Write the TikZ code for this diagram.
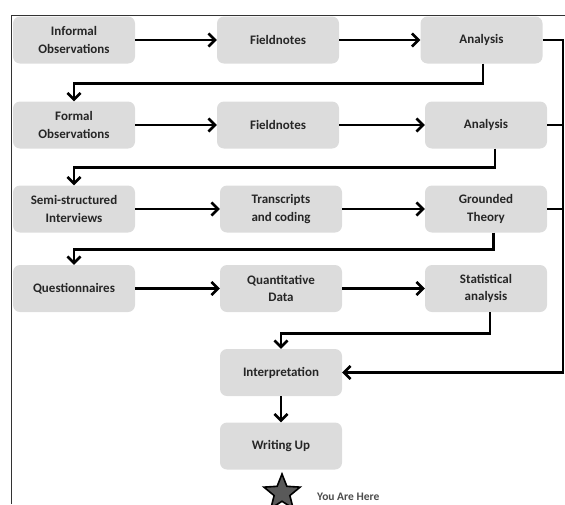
\documentclass[tikz,border=0pt]{standalone}
\usepackage{fontspec}
\setmainfont{Carlito}
\usepackage{tikz}
\usetikzlibrary{arrows.meta}
\usetikzlibrary{shapes.geometric}
\definecolor{boxgrey}{HTML}{DCDCDC}

\begin{document}
\begin{tikzpicture}[x=1pt,y=-1pt,
	box/.style={fill=boxgrey,rounded corners=7pt,minimum width=122pt,minimum height=47pt,align=center,inner sep=2pt,font=\bfseries\fontsize{13}{17.5}\selectfont,text=black!85},
	link/.style={line width=2.6pt,-{Straight Barb[length=6.5pt,width=13pt]}},
	feed/.style={line width=2.4pt}]
	\useasboundingbox (0,0) rectangle (565,504);
	\draw [line width=0.8pt,black!80] (11,504) -- (11,15) -- (565,15);
	\begin{scope}[every node/.style={box}]
	\node (io) at (74,40) {Informal\\Observations};
	\node (fn1) at (278,40) {Fieldnotes};
	\node (an1) at (481.5,40) {Analysis};
	\node (fo) at (74,125) {Formal\\Observations};
	\node (fn2) at (278,125) {Fieldnotes};
	\node (an2) at (486,125) {Analysis};
	\node (si) at (74,209) {Semi-structured\\Interviews};
	\node (tc) at (281,209) {Transcripts\\and coding};
	\node (gt) at (486,209) {Grounded\\Theory};
	\node (qu) at (74,288.5) {Questionnaires};
	\node (qd) at (281,288.5) {Quantitative\\Data};
	\node (sa) at (486,288.5) {Statistical\\analysis};
	\node (ip) at (281,372.5) {Interpretation};
	\node (wu) at (281,446) {Writing Up};
	\end{scope}
	\coordinate (rx) at (563,0);
	\draw [link] (io) -- (fn1);
	\draw [link] (fn1) -- (an1);
	\draw [link] (fo) -- (fn2);
	\draw [link] (fn2) -- (an2);
	\draw [link] (si) -- (tc);
	\draw [link] (tc) -- (gt);
	\draw [link] (qu) -- (qd);
	\draw [link] (qd) -- (sa);
	\draw [link] ([xshift=1.5pt]an1.south) -- ++(0,19.5) -| (fo.north);
	\draw [link] ([xshift=9pt]an2.south) -- ++(0,19) -| (si.north);
	\draw [link] ([xshift=7.5pt]gt.south) -- ++(0,17) -| (qu.north);
	\draw [link] ([xshift=4pt]sa.south) -- ++(0,21) -| (ip.north);
	\draw [link] (ip) -- (wu);
	\draw [link] (an1.east) -- (an1.east -| rx) -- (rx |- ip.east) -- (ip.east);
	\draw [feed] (an2.east) -- (an2.east -| rx);
	\draw [feed] (gt.east) -- (gt.east -| rx);
	\node [star,star points=5,star point ratio=2.3,minimum size=38pt,inner sep=0pt,draw=black,line width=1.6pt,fill=black!65] (star) at (282,493) {};
	\node [anchor=west,inner sep=0pt,font=\bfseries\fontsize{11.5}{13}\selectfont,text=black!70] (here) at (317,497) {You Are Here};
\end{tikzpicture}
\end{document}
